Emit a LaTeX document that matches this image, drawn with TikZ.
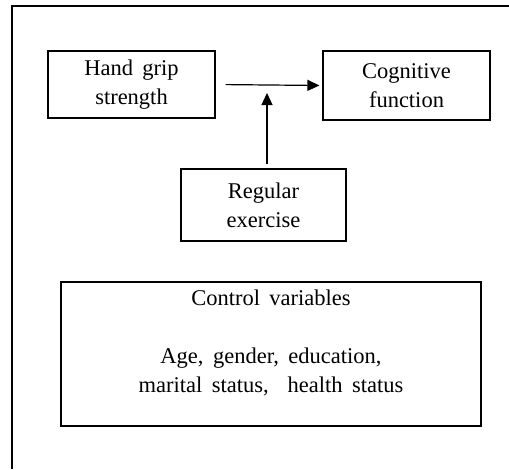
\documentclass[tikz,border=0pt]{standalone}
\usepackage{fontspec}
\setmainfont{Liberation Serif}
\usetikzlibrary{arrows.meta, positioning}

\newcommand{\boxfont}{\fontsize{22.5}{29}\selectfont\spaceskip=0.42em plus 0.1em\relax}

\tikzset{
	varbox/.style = {draw, line width=1.2pt, align=center, font=\boxfont},
	link/.style = {line width=1.2pt, arrows = {-Triangle[length=12pt, width=11pt]}}
}

\begin{document}
\begin{tikzpicture}[x=1pt, y=-1pt]
		\useasboundingbox (0, 0) rectangle (509, 469);
		\draw[line width = 1.5pt] (12, 469) -- (12, 6) -- (509, 6);

		\node[varbox, minimum width=167pt, minimum height=67pt] (grip) at (131.5, 84.5) {Hand grip\\strength};
		\node[varbox, minimum width=167pt, minimum height=69pt] (cog) at (406.5, 85.5) {Cognitive\\function};
		\node[varbox, minimum width=165pt, minimum height=72pt] (exer) at (263.5, 205) {Regular\\exercise};
		\node[varbox, minimum width=420pt, minimum height=144pt] (ctrl) at (271, 354) {};
		\node[varbox, draw=none, below=5pt of ctrl.north] (ctrltext) {Control variables\\[29pt]Age, gender, education,\\marital status, \ health status};

		\coordinate (mod) at (267, 93);
		\draw[link, shorten <= 10pt, shorten >= 3pt] (grip.east) -- (cog.west);
		\draw[link, shorten <= 4pt] (exer.north -| mod) -- (mod);

	\end{tikzpicture}
\end{document}
